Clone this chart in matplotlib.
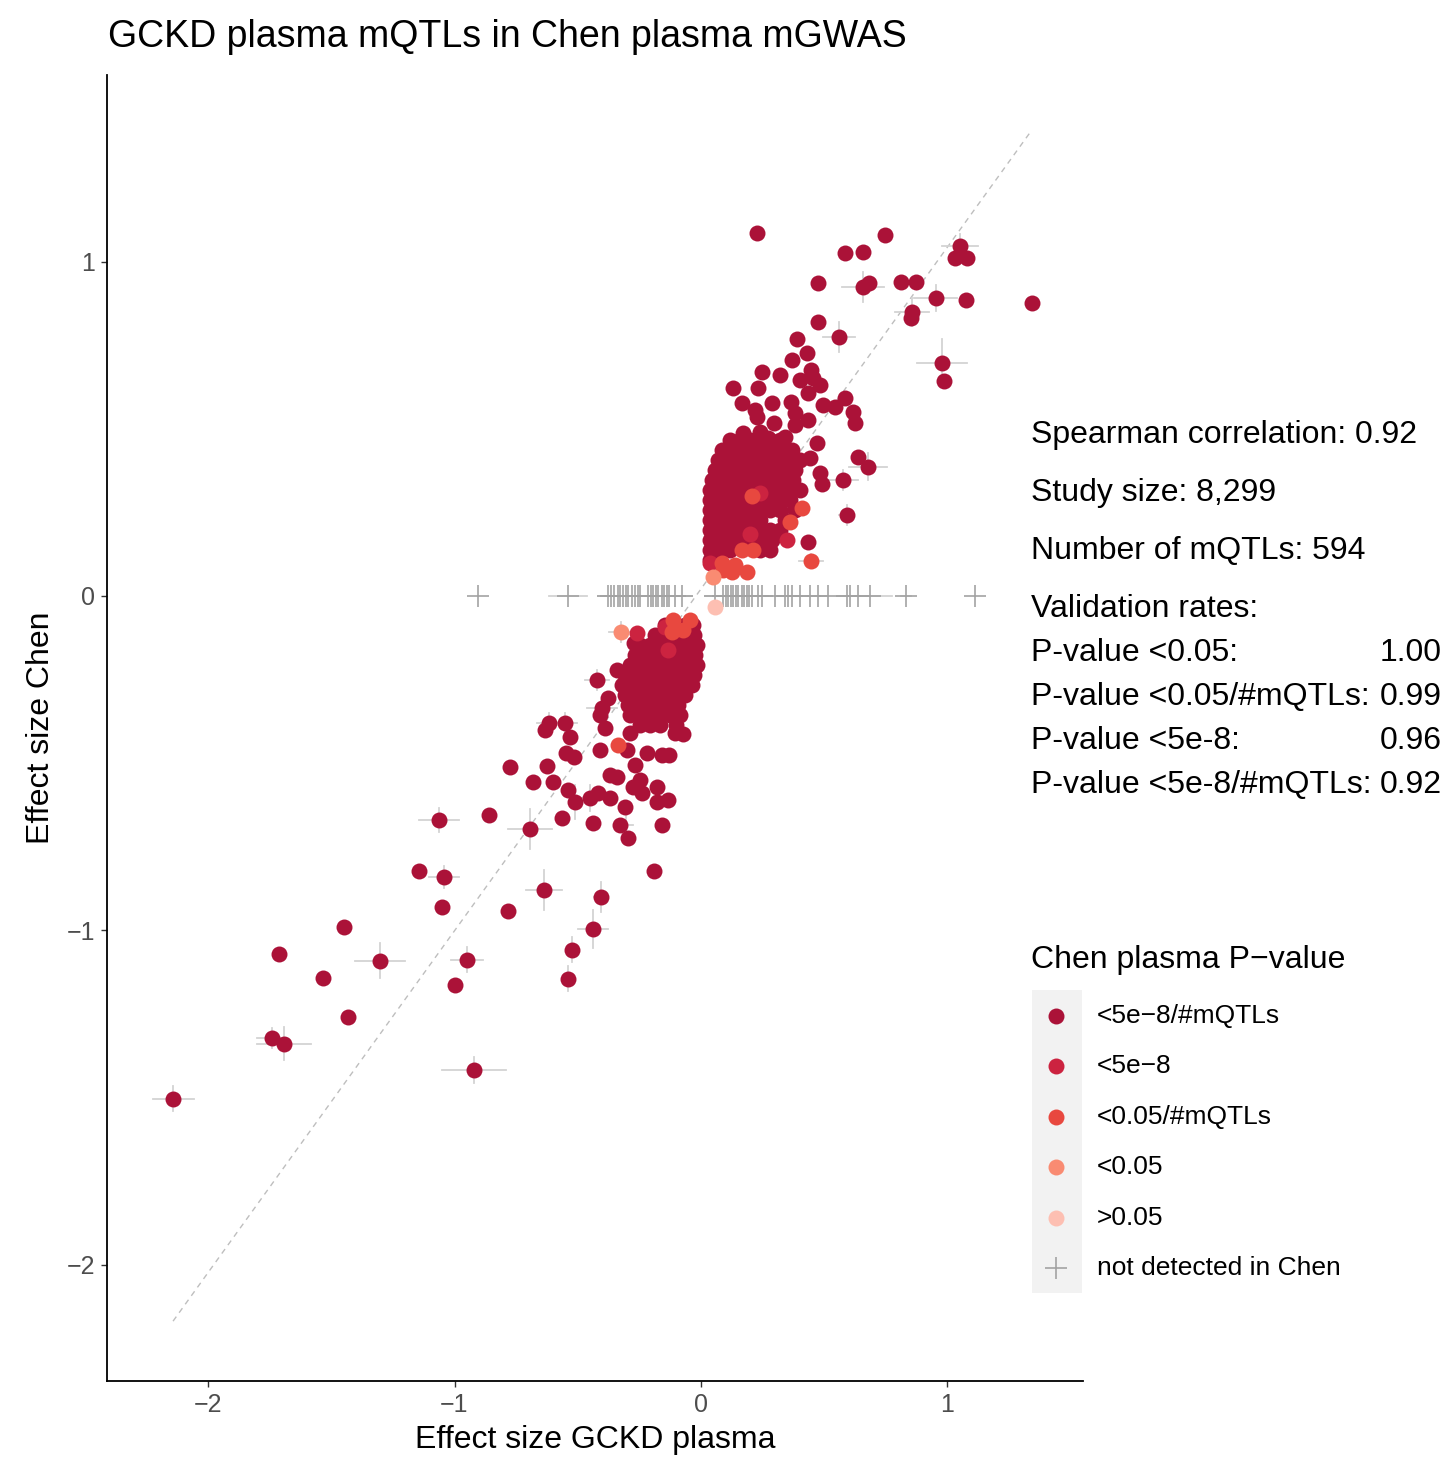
import matplotlib.pyplot as plt
from matplotlib.patches import Rectangle

plt.rcParams['font.family'] = ['Liberation Sans', 'DejaVu Sans']

# effect sizes (GCKD, Chen) by Chen P-value class
strict = [
    # upper dense cluster
    (0.118, 0.466), (0.158, 0.466), (0.199, 0.466), (0.239, 0.466), (0.280, 0.466), (0.320, 0.466),
    (0.085, 0.436), (0.126, 0.436), (0.166, 0.436), (0.207, 0.436), (0.247, 0.436), (0.288, 0.436),
    (0.329, 0.436), (0.369, 0.436),
    (0.069, 0.407), (0.110, 0.407), (0.150, 0.407), (0.191, 0.407), (0.231, 0.407), (0.272, 0.407),
    (0.312, 0.407), (0.361, 0.407), (0.402, 0.407),
    (0.057, 0.377), (0.097, 0.377), (0.138, 0.377), (0.178, 0.377), (0.219, 0.377), (0.260, 0.377),
    (0.300, 0.377), (0.341, 0.377), (0.381, 0.377),
    (0.045, 0.347), (0.085, 0.347), (0.126, 0.347), (0.166, 0.347), (0.207, 0.347), (0.247, 0.347),
    (0.288, 0.347), (0.329, 0.347), (0.373, 0.347),
    (0.037, 0.317), (0.077, 0.317), (0.118, 0.317), (0.158, 0.317), (0.199, 0.317), (0.239, 0.317),
    (0.280, 0.317), (0.320, 0.317), (0.361, 0.317), (0.402, 0.317),
    (0.037, 0.287), (0.077, 0.287), (0.118, 0.287), (0.158, 0.287), (0.199, 0.287), (0.239, 0.287),
    (0.280, 0.287), (0.320, 0.287), (0.361, 0.287),
    (0.037, 0.257), (0.077, 0.257), (0.118, 0.257), (0.158, 0.257), (0.199, 0.257), (0.239, 0.257),
    (0.280, 0.257), (0.320, 0.257), (0.381, 0.257),
    (0.037, 0.227), (0.077, 0.227), (0.118, 0.227), (0.158, 0.227), (0.199, 0.227), (0.239, 0.227),
    (0.341, 0.227),
    (0.037, 0.197), (0.077, 0.197), (0.118, 0.197), (0.158, 0.197), (0.199, 0.197), (0.239, 0.197),
    (0.280, 0.197), (0.320, 0.197),
    (0.037, 0.167), (0.077, 0.167), (0.118, 0.167), (0.158, 0.167), (0.199, 0.167), (0.239, 0.167),
    (0.288, 0.167),
    (0.037, 0.138), (0.077, 0.138), (0.118, 0.138), (0.239, 0.138), (0.280, 0.138),
    (0.037, 0.108), (0.069, 0.108),
    # upper scatter
    (0.247, 0.670), (0.320, 0.661), (0.402, 0.646), (0.454, 0.652), (0.130, 0.622), (0.231, 0.622),
    (0.483, 0.631), (0.434, 0.607), (0.166, 0.577), (0.288, 0.577), (0.365, 0.580), (0.219, 0.556),
    (0.584, 0.592), (0.495, 0.571), (0.544, 0.565), (0.617, 0.550), (0.625, 0.517), (0.227, 0.535),
    (0.296, 0.517), (0.381, 0.547), (0.434, 0.526), (0.381, 0.511), (0.170, 0.487), (0.239, 0.490),
    (0.272, 0.473), (0.341, 0.475), (0.471, 0.457), (0.637, 0.416), (0.677, 0.386), (0.576, 0.347),
    (0.491, 0.335), (0.592, 0.242), (0.483, 0.368), (0.442, 0.413), (0.434, 0.161),
    (0.389, 0.768), (0.430, 0.726), (0.369, 0.706), (0.446, 0.676), (0.475, 0.819), (0.560, 0.774),
    (0.475, 0.936), (0.227, 1.085), (0.584, 1.025), (0.657, 1.028), (0.746, 1.079), (0.657, 0.924),
    (0.682, 0.936), (0.811, 0.939), (0.872, 0.939), (0.953, 0.891), (1.075, 0.885), (1.343, 0.876),
    (0.856, 0.849), (0.852, 0.831), (0.978, 0.697), (0.986, 0.643), (1.051, 1.046), (1.030, 1.010),
    (1.079, 1.010),
    # lower dense cluster
    (-0.146, -0.087), (-0.105, -0.087), (-0.065, -0.087), (-0.032, -0.087),
    (-0.187, -0.117), (-0.146, -0.117), (-0.105, -0.117), (-0.065, -0.117), (-0.028, -0.117),
    (-0.247, -0.146), (-0.207, -0.146), (-0.166, -0.146), (-0.126, -0.146), (-0.085, -0.146),
    (-0.045, -0.146), (-0.016, -0.146),
    (-0.268, -0.176), (-0.227, -0.176), (-0.187, -0.176), (-0.146, -0.176), (-0.105, -0.176),
    (-0.065, -0.176), (-0.024, -0.176),
    (-0.288, -0.206), (-0.247, -0.206), (-0.207, -0.206), (-0.166, -0.206), (-0.126, -0.206),
    (-0.085, -0.206), (-0.045, -0.206), (-0.016, -0.206),
    (-0.308, -0.236), (-0.268, -0.236), (-0.227, -0.236), (-0.187, -0.236), (-0.146, -0.236),
    (-0.105, -0.236), (-0.065, -0.236), (-0.028, -0.236),
    (-0.320, -0.266), (-0.280, -0.266), (-0.239, -0.266), (-0.199, -0.266), (-0.158, -0.266),
    (-0.118, -0.266), (-0.077, -0.266), (-0.037, -0.266),
    (-0.308, -0.296), (-0.268, -0.296), (-0.227, -0.296), (-0.187, -0.296), (-0.146, -0.296),
    (-0.105, -0.296), (-0.065, -0.296),
    (-0.296, -0.326), (-0.256, -0.326), (-0.215, -0.326), (-0.174, -0.326), (-0.134, -0.326),
    (-0.093, -0.326),
    (-0.288, -0.356), (-0.247, -0.356), (-0.207, -0.356), (-0.166, -0.356), (-0.126, -0.356),
    (-0.085, -0.356),
    (-0.247, -0.386), (-0.207, -0.386), (-0.166, -0.386), (-0.101, -0.386),
    # lower scatter
    (-0.272, -0.140), (-0.422, -0.251), (-0.341, -0.221), (-0.377, -0.305), (-0.402, -0.335),
    (-0.410, -0.356), (-0.389, -0.395), (-0.410, -0.460), (-0.288, -0.410), (-0.300, -0.460),
    (-0.219, -0.469), (-0.158, -0.475), (-0.105, -0.410), (-0.268, -0.505), (-0.369, -0.535),
    (-0.341, -0.541), (-0.247, -0.550), (-0.276, -0.571), (-0.239, -0.589), (-0.178, -0.571),
    (-0.134, -0.610), (-0.178, -0.616), (-0.450, -0.604), (-0.418, -0.589), (-0.369, -0.604),
    (-0.308, -0.631), (-0.158, -0.685), (-0.329, -0.685), (-0.296, -0.723), (-0.440, -0.679),
    (-0.191, -0.822), (-0.073, -0.413), (-0.130, -0.475),
    (-0.617, -0.380), (-0.633, -0.401), (-0.552, -0.380), (-0.531, -0.422), (-0.548, -0.469),
    (-0.515, -0.481), (-0.775, -0.511), (-0.625, -0.508), (-0.682, -0.556), (-0.600, -0.556),
    (-0.540, -0.580), (-0.511, -0.616), (-0.565, -0.664),
    # far tail
    (-1.063, -0.670), (-0.860, -0.655), (-0.694, -0.697), (-1.144, -0.822), (-1.043, -0.840),
    (-1.051, -0.930), (-0.783, -0.942), (-0.637, -0.879), (-0.406, -0.900), (-0.438, -0.996),
    (-0.523, -1.058), (-0.540, -1.145), (-1.448, -0.990), (-1.712, -1.070), (-1.533, -1.142),
    (-1.302, -1.091), (-0.949, -1.088), (-0.998, -1.163), (-1.432, -1.259), (-1.740, -1.321),
    (-1.692, -1.339), (-0.921, -1.417), (-2.142, -1.504),
]
genomewide = [
    (0.239, 0.308), (0.199, 0.185), (0.349, 0.167), (0.037, 0.099),
    (-0.260, -0.111), (-0.146, -0.093), (-0.134, -0.161),
]
bonferroni = [
    (0.207, 0.299), (0.410, 0.263), (0.361, 0.221), (0.166, 0.138), (0.211, 0.138), (0.085, 0.099),
    (0.138, 0.093), (0.187, 0.072), (0.126, 0.072), (0.089, 0.078), (0.446, 0.105),
    (-0.114, -0.072), (-0.045, -0.072), (-0.073, -0.102), (-0.118, -0.108), (-0.337, -0.445),
]
nominal = [(0.049, 0.057), (-0.325, -0.108)]
not_sig = [(0.057, -0.033)]

# mQTLs missing in Chen: GCKD effect only, drawn at 0
missing_x = [
    -0.905, -0.540,
    -0.377, -0.365, -0.353, -0.337, -0.329, -0.316, -0.304, -0.296, -0.280, -0.268, -0.256, -0.247,
    -0.215, -0.203, -0.195, -0.183, -0.174, -0.158, -0.150, -0.138, -0.130, -0.105, -0.077,
    0.057, 0.089, 0.101, 0.110, 0.122, 0.130, 0.142, 0.150, 0.166, 0.174, 0.187, 0.195, 0.207,
    0.231, 0.247, 0.300, 0.341, 0.353, 0.369, 0.402, 0.442, 0.475, 0.515, 0.592, 0.604, 0.637,
    0.686, 0.832, 1.112,
]
missing_xerr = [
    0.0, 0.077,
    0.04, 0, 0, 0, 0, 0, 0, 0, 0, 0, 0, 0,
    0, 0, 0, 0, 0, 0, 0, 0, 0, 0, 0.04,
    0.04, 0, 0, 0, 0, 0, 0, 0, 0, 0, 0, 0, 0,
    0, 0, 0, 0, 0, 0, 0, 0, 0, 0, 0, 0, 0,
    0.09, 0.02, 0.0,
]

# confidence intervals visible behind the points: x, y, x half-width, y half-width
ci = [
    (-2.142, -1.504, 0.083, 0.037), (-1.740, -1.321, 0.06, 0.03), (-1.692, -1.339, 0.11, 0.05),
    (-0.921, -1.417, 0.13, 0.039), (-1.302, -1.091, 0.10, 0.052), (-0.949, -1.088, 0.065, 0.037),
    (-1.063, -0.670, 0.083, 0.037), (-0.694, -0.697, 0.09, 0.06), (-1.043, -0.840, 0.06, 0.033),
    (-0.637, -0.879, 0.073, 0.06), (-0.438, -0.996, 0.06, 0.057), (-0.406, -0.900, 0.03, 0.045),
    (-0.523, -1.058, 0.02, 0.037), (-0.540, -1.145, 0.02, 0.037), (-0.511, -0.616, 0.02, 0.05),
    (-0.304, -0.685, 0.03, 0.06), (-0.617, -0.380, 0.05, 0.03), (-0.552, -0.380, 0.05, 0.03),
    (-0.450, -0.604, 0.06, 0.04), (-0.402, -0.335, 0.06, 0.03), (-0.422, -0.251, 0.05, 0.03),
    (1.051, 1.046, 0.073, 0.037), (0.657, 0.924, 0.085, 0.044), (0.953, 0.891, 0.087, 0.04),
    (0.856, 0.849, 0.07, 0.043), (0.560, 0.774, 0.065, 0.045), (0.978, 0.697, 0.10, 0.07),
    (0.677, 0.386, 0.077, 0.04), (0.576, 0.347, 0.06, 0.03), (0.592, 0.242, 0.03, 0.03),
    (0.446, 0.105, 0.05, 0.02), (-0.325, -0.108, 0.05, 0.03),
]

# reference diagonal end points
diag_x = [-2.142, 1.343]
diag_y = [-2.169, 1.394]

classes = ['<5e\u22128/#mQTLs', '<5e\u22128', '<0.05/#mQTLs', '<0.05', '>0.05']
class_colors = ['#AB1238', '#CC2340', '#E8483F', '#F98B72', '#FDBFB2']
class_points = [strict, genomewide, bonferroni, nominal, not_sig]

spearman = 0.92
study_size = 8299
n_mqtl = 594
rate_labels = ['P-value <0.05:', 'P-value <0.05/#mQTLs:', 'P-value <5e-8:', 'P-value <5e-8/#mQTLs:']
rate_values = [1.00, 0.99, 0.96, 0.92]

W, H = 1451, 1464
fig = plt.figure(figsize=(W / 100, H / 100), dpi=100)
ax = fig.add_axes([107 / W, 1 - 1381 / H, (1083 - 107) / W, (1381 - 75) / H])

ax.plot(diag_x, diag_y, ls=(0, (4, 3.5)), color='#BEBEBE', lw=1.0, zorder=1)

for x, y, ex, ey in ci:
    ax.plot([x - ex, x + ex], [y, y], color='#D3D3D3', lw=1.3, zorder=2)
    ax.plot([x, x], [y - ey, y + ey], color='#D3D3D3', lw=1.3, zorder=2)

for x, ex in zip(missing_x, missing_xerr):
    if ex > 0:
        ax.plot([x - ex, x + ex], [0, 0], color='#D3D3D3', lw=1.3, zorder=2)
ax.plot(missing_x, [0] * len(missing_x), ls='none', marker='+', ms=16,
        mew=1.2, color='#A3A3A3', zorder=3)

for pts, col in zip(class_points, class_colors):
    xs = [p[0] for p in pts]
    ys = [p[1] for p in pts]
    ax.plot(xs, ys, ls='none', marker='o', ms=11.5, mew=0, color=col, zorder=4)

ax.set_xlim(-2.41, 1.55)
ax.set_ylim(-2.348, 1.558)
ax.set_xticks([-2, -1, 0, 1])
ax.set_yticks([-2, -1, 0, 1])
ax.set_xticklabels(['\u22122', '\u22121', '0', '1'])
ax.set_yticklabels(['\u22122', '\u22121', '0', '1'])
for s in ['top', 'right']:
    ax.spines[s].set_visible(False)
for s in ['left', 'bottom']:
    ax.spines[s].set_linewidth(1.3)
ax.tick_params(length=4.5, width=1.0, color='#333333', labelcolor='#4D4D4D', labelsize=18, pad=4)
ax.set_xlabel('Effect size GCKD plasma', fontsize=23, labelpad=6)
ax.set_ylabel('Effect size Chen', fontsize=23, labelpad=8)
fig.text(108 / W, 1 - 37 / H, 'GCKD plasma mQTLs in Chen plasma mGWAS', fontsize=27,
         ha='left', va='center')

# summary statistics
tx = 1031 / W
fs = 23
fig.text(tx, 1 - 435 / H, f'Spearman correlation: {spearman:.2f}', fontsize=fs, va='center')
fig.text(tx, 1 - 493 / H, f'Study size: {study_size:,}', fontsize=fs, va='center')
fig.text(tx, 1 - 551 / H, f'Number of mQTLs: {n_mqtl}', fontsize=fs, va='center')
fig.text(tx, 1 - 609 / H, 'Validation rates:', fontsize=fs, va='center')
for i, (lab, val) in enumerate(zip(rate_labels, rate_values)):
    yy = 1 - (653 + 44 * i) / H
    fig.text(tx, yy, lab, fontsize=fs, va='center')
    fig.text(1442 / W, yy, f'{val:.2f}', fontsize=fs, va='center', ha='right')

# legend
fig.text(tx, 1 - 960 / H, 'Chen plasma P\u2212value', fontsize=fs, va='center')
lax = fig.add_axes([0, 0, 1, 1], facecolor='none')
lax.set_xlim(0, W)
lax.set_ylim(H, 0)
lax.axis('off')
lax.add_patch(Rectangle((1032, 990), 50, 303, facecolor='#F2F2F2', edgecolor='none'))
for i, (lab, col) in enumerate(zip(classes, class_colors)):
    ky = 1016 + 50.4 * i
    lax.plot([1056], [ky], marker='o', ms=11.5, mew=0, color=col)
    lax.text(1097, ky, lab, fontsize=19, va='center')
ky = 1016 + 50.4 * 5
lax.plot([1056], [ky], marker='+', ms=16, mew=1.2, color='#A3A3A3')
lax.text(1097, ky, 'not detected in Chen', fontsize=19, va='center')

fig.savefig('out.png', dpi=100)
